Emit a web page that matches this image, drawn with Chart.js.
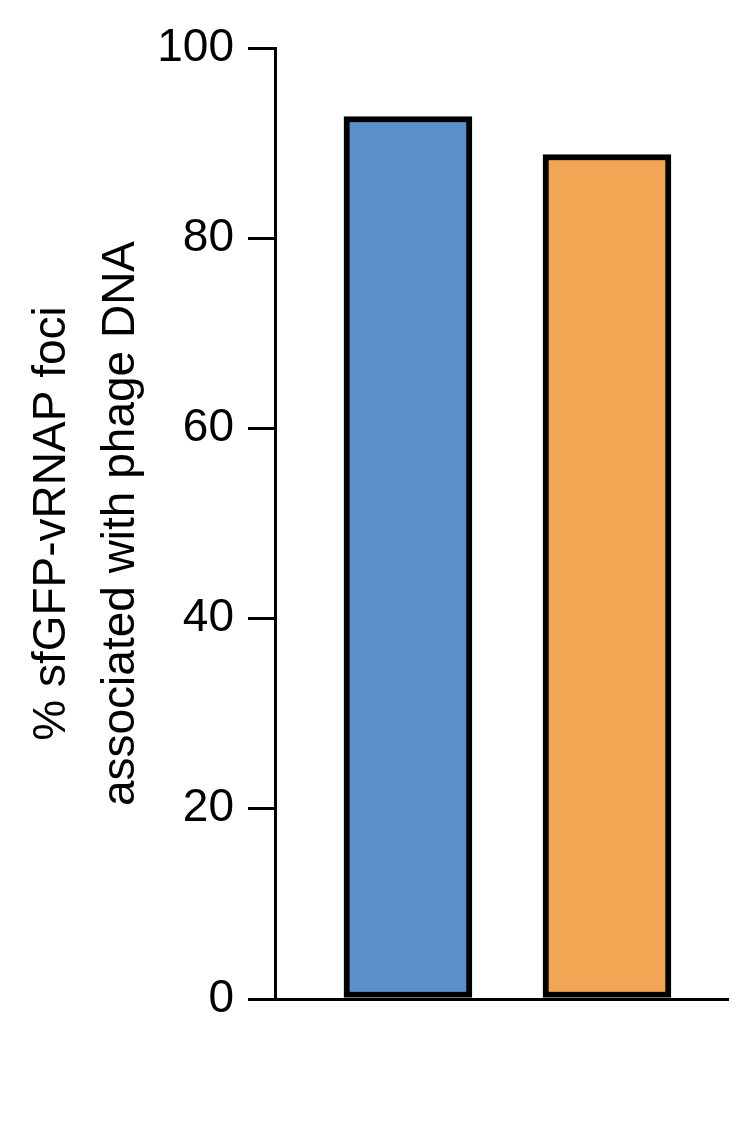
<!DOCTYPE html>
<html><head><meta charset="utf-8">
<script src="https://cdn.jsdelivr.net/npm/chart.js@4"></script>
<style>html,body{margin:0;padding:0;background:#fff}#w{width:751px;height:1124px}</style>
</head><body><div id="w"><canvas id="c"></canvas></div>
<script>
const categories = ['NT', 'ChmAg1'];
const values = [92.8, 88.8];
const colors = ['#5b8fc9', '#f2a654'];
const yTicks = [0, 20, 40, 60, 80, 100];
const yTitle = ['% sfGFP-vRNAP foci', 'associated with phage DNA'];
const F = 'Liberation Sans, Arial, sans-serif';
const isCat = v => Math.abs(v - Math.round(v)) < 1e-6 && v >= 1 && v <= categories.length;
new Chart(document.getElementById('c'), {
  type: 'bar',
  data: { datasets: [{
    data: categories.map((c, i) => ({ x: i + 1, y: values[i] })),
    backgroundColor: colors, borderColor: '#000', borderWidth: 6,
    borderSkipped: false, barThickness: 128
  }]},
  options: {
    responsive: true, maintainAspectRatio: false, animation: false,
    layout: { padding: { top: 48, right: 24, left: 0, bottom: 0 } },
    plugins: { legend: { display: false }, tooltip: { enabled: false } },
    scales: {
      x: {
        type: 'linear', min: 0.332, max: 2.603, offset: false,
        afterFit: s => { s.height = 125; },
        ticks: { stepSize: 1, autoSkip: false, callback: v => isCat(v) ? categories[Math.round(v) - 1] : '', color: '#000', font: { family: F, size: 46 }, padding: 8, maxRotation: 0 },
        grid: { drawOnChartArea: false, tickLength: 30, lineWidth: 3,
          tickColor: ctx => (ctx.tick && isCat(ctx.tick.value)) ? '#000' : 'rgba(0,0,0,0)' },
        border: { color: '#000', width: 3 }
      },
      y: {
        min: 0, max: 100,
        afterBuildTicks: s => { s.ticks = yTicks.map(v => ({ value: v })); },
        afterFit: s => { s.width = 275; },
        ticks: { color: '#000', font: { family: F, size: 46 }, padding: 14 },
        grid: { drawOnChartArea: false, tickLength: 27, tickColor: '#000', lineWidth: 3 },
        border: { color: '#000', width: 3 },
        title: { display: true, text: yTitle, color: '#000', font: { family: F, size: 46, lineHeight: 1.5 }, padding: { top: 18, bottom: 0 } }
      }
    }
  }
});
</script></body></html>
